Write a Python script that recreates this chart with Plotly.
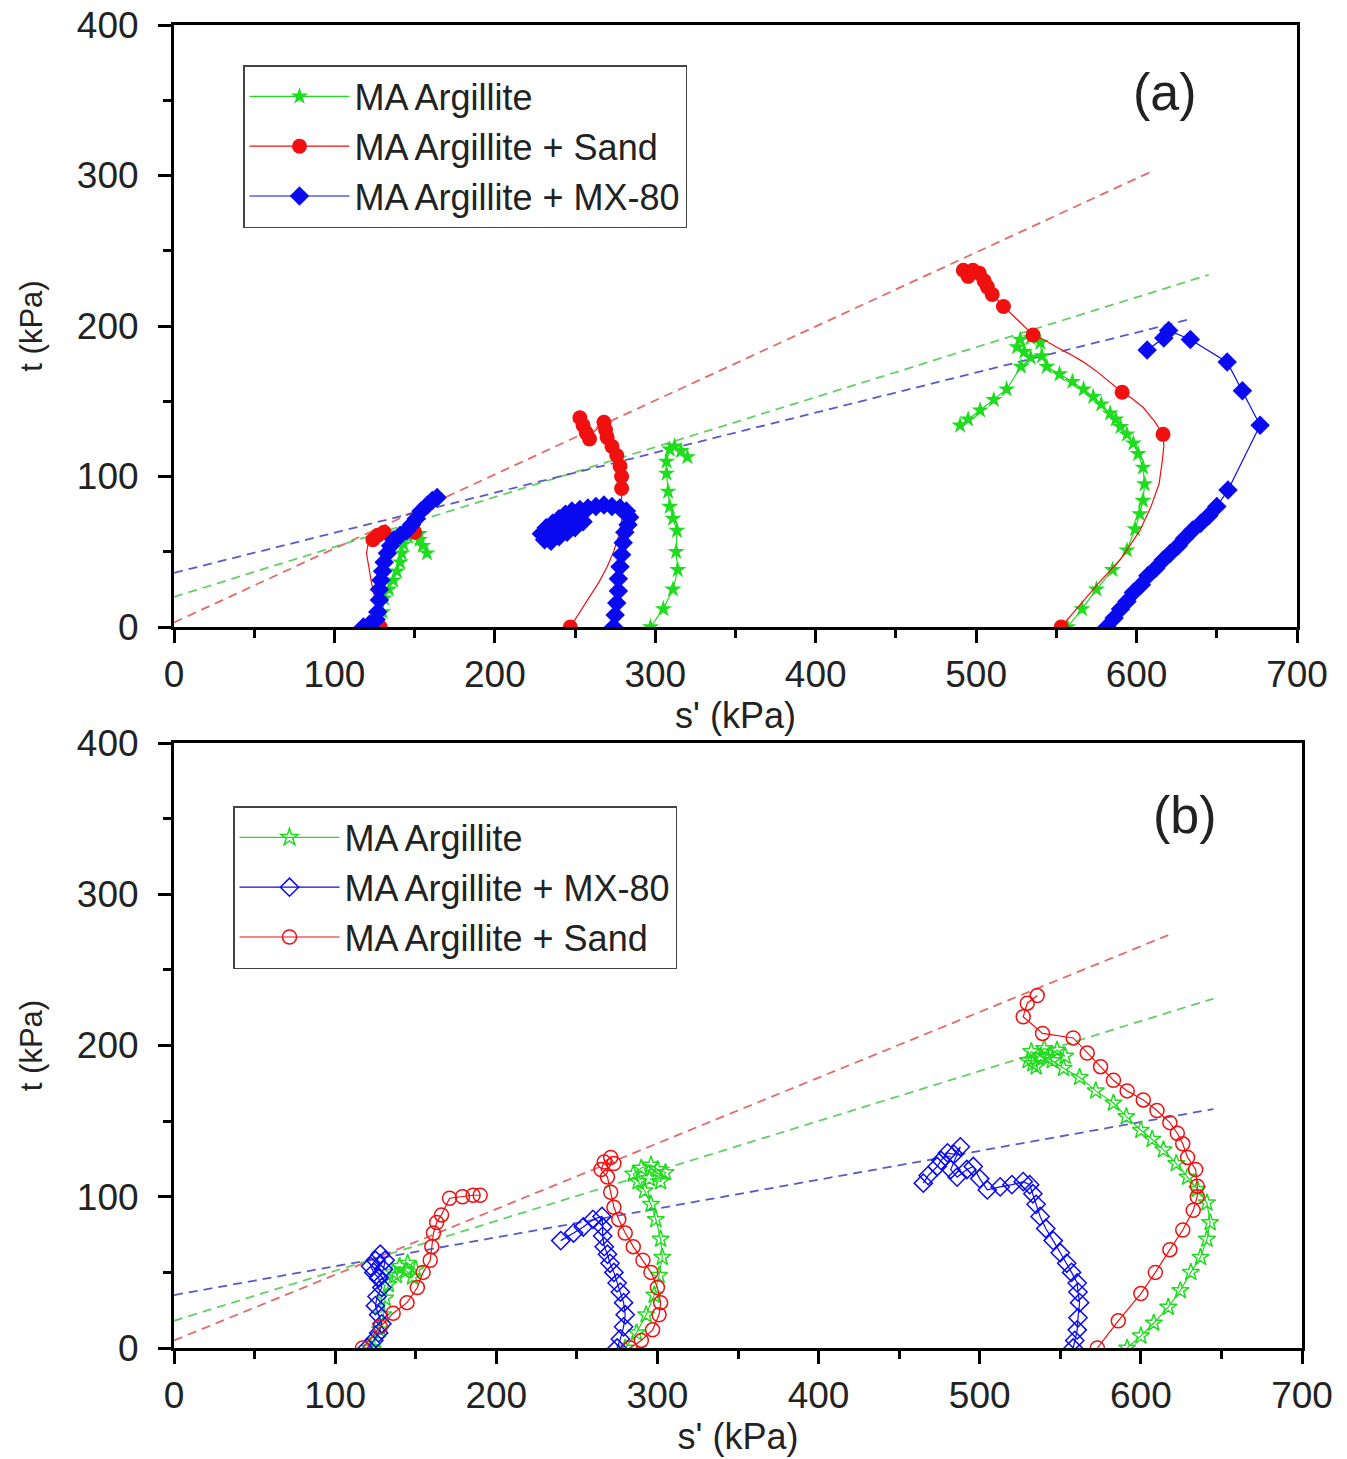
import plotly.graph_objects as go

# ---------------- Panel (a) data ----------------
# MA Argillite (green stars)
a_green_s = [128, 130, 131, 134, 136.7, 139, 141, 142, 143, 146, 149, 153, 153, 155, 157.7, None,
             297, 305, 311, 314, 313, 313.5, 311, 309, 308, 307, 307, 309, 312, 316, 320, None,
             557, 566, 575, 585, 594, 599, 602, 604, 605, 604, 601, 598, 594, 590, 587, 583.5, 578, 573,
             567, 560, 552, 544, 541, 540, 534, 527.5, 525.5, 530, 534, 528, 519, 511, 502.5, 495, 490]
a_green_t = [0, 10, 19, 25, 31, 37, 43, 49, 55, 60, 64, 62, 58, 54, 49, None,
             0, 12, 25, 38, 50, 64, 72, 80, 90, 102, 110, 118, 120, 117, 113, None,
             0, 12, 25, 38, 51, 65, 75, 84, 95, 106, 115, 122, 128, 133, 138, 142, 148, 153,
             158, 163, 168, 173, 180, 189, 192, 191, 186, 183, 179, 173, 158, 151, 144, 138, 134]

# MA Argillite + Sand (red circles): smooth path and marked points
a_red_line_s = [128.5, 126, 123, 121, 120, 121, 124, 127, 130, 135, 140, 145, 149, None,
                247, 253, 259, 265, 270, 274, 277, 279, 279, 279, 279, 277, 274, 272, 271, 270, 268,
                262, 257, 256, 254, 253, None,
                553, 565, 577, 590, 602, 609, 614, 616, 617, 616.5, 611, 604, 597, 591, 583, 575, 567,
                559, 550, 542, 535.5, 528, 522, 517, 512, 507, 504, 502, 496, 492]
a_red_line_t = [0, 15, 30, 42, 49, 55, 58, 61, 64, 63, 62, 63, 64, None,
                0, 10, 20, 30, 40, 50, 60, 70, 80, 92, 102, 111, 118, 124, 130, 134, 136,
                130, 124, 129, 136, 139, None,
                0, 15, 30, 45, 64, 80, 95, 110, 120, 128, 137, 146, 152, 156, 163, 170, 176,
                181, 186, 191, 194, 202, 208, 213, 219, 226, 231, 235, 237, 237]
a_red_pts_s = [128.5, 124, 127, 131, 147, 150,
               247, 279, 279, 278, 276, 273, 270, 269, 268, 259, 257, 255, 253,
               553, 616.5, 591, 535.5, 517, 510, 507, 505, 502, 498, 492, 495]
a_red_pts_t = [0, 58, 61, 63, 64, 63,
               0, 92, 100, 107, 114, 120, 126, 131, 136, 125, 129, 134, 139,
               0, 128, 156, 194, 213, 221, 226, 230, 235, 237, 237, 233]

# MA Argillite + MX-80 (blue diamonds)
a_blue_s = [118, 122, 126, 127, 128, 128, 129, 130, 131, 133, 135, 137, 141, 145, 148, 151, 154, 158, 161, 164, None,
            274, 275, 276, 277, 277, 278, 279, 280, 281, 283, 284, 282, 278, 273, 268, 263, 258, 253, 248,
            244, 240, 236, 232, 229, 231, 235, 240, 245, 250, 255, 250, 243, 237, None,
            581.5, 586, 590, 594, 598, 603, 607, 612, 616.6, 621, 626, 630, 635, 640, 645, 650,
            657, 677, 666, 656.5, 633.5, 620, 617, 606.6]
a_blue_t = [0, 2, 5, 10, 18, 25, 31, 37, 43, 49, 54, 58, 61, 64, 68, 72, 77, 81, 84, 86, None,
            0, 8, 16, 24, 32, 40, 48, 56, 63, 68, 73, 77, 79, 80, 81, 80, 79, 78, 77,
            75, 72, 69, 66, 62, 58, 57, 60, 63, 66, 70, 72, 68, 64, None,
            0, 6, 12, 17, 23, 28, 34, 39, 44.5, 49, 54, 59, 64.5, 69, 74, 80,
            91, 134, 157, 176, 191, 197, 192, 184]

# Failure lines (a)
a_red_fit_s, a_red_fit_t = [0, 610], [3, 303]
a_green_fit_s, a_green_fit_t = [0, 645], [20, 234]
a_blue_fit_s, a_blue_fit_t = [0, 635], [36, 205]

# ---------------- Panel (b) data ----------------
b_green_s = [122, 125, 128, 130, 131, 133, 136, 140, 144, 148, 150, 145, 138, None,
             280, 287, 293, 298, 301, 303, 302, 299, 296, 292, 288, 285, 290, 296, 300, 305, 302, 295, None,
             591.5, 600, 608, 617, 624.5, 631, 637, 641, 643, 641, 635, 629, 622, 614, 607, 600, 591, 583,
             572, 562, 552, 545, 538, 532, 530, 535, 542, 548, 553, 540, 533]
b_green_t = [0, 5, 12, 22, 33, 42, 50, 54, 51, 47, 52, 56, 48, None,
             0, 10, 22, 35, 48, 60, 72, 85, 95, 104, 110, 115, 119, 121, 118, 116, 110, 112, None,
             0, 8, 16.5, 27, 38, 50, 60, 72, 83, 96, 105, 113, 122, 131, 138, 144, 153, 162,
             170, 179, 185, 190, 193, 196, 190, 186, 192, 197, 193, 198, 188]

b_blue_s = [120, 124, 127, 129, 127, 125, 126, 129, 127, 124, 122, 125, 128, 131, 130, 127, None,
            275, 277, 279, 280, 279, 277, 275, 273, 270.6, 269, 267, 266, 266, 265.6, 260, 254, 248, 240, None,
            558, 559, 560.5, 561, 562, 561, 560.5, 557, 554, 550, 545.6, 541, 537.5, 535, 533, 531, 527,
            520, 512.7, 504.7, 500, 496, 492, 486, 482, 488, 484, 480, 476, 473.6, 468, 465]
b_blue_t = [0, 5, 10, 16, 22, 28, 34, 40, 46, 50, 54, 58, 62, 58, 52, 47, None,
            0, 6, 14, 22, 30, 37, 43, 50, 56, 62, 67, 74, 80, 87, 85, 80, 76, 71, None,
            0, 5, 12, 20, 30, 37, 43, 50, 56, 63, 71, 79, 87, 95, 102, 108, 110,
            108, 106.5, 104.5, 112, 120, 118, 113, 118, 133, 128, 129, 124, 120, 114, 109]

b_red_s = [117, 128, 136, 144.6, 151, 154.6, 159, 160, 161, 163, 166, 171, 179, 185.6, 190, None,
           283, 290, 297, 301, 302, 300, 296, 291, 285, 280, 276, 273, 271, 269, 265, 267, 271, 273, None,
           573, 586, 600, 609, 618, 626, 632.5, 635, 635, 634, 629, 626, 622.6, 618, 610, 601.5, 591.5,
           583, 575, 566.7, 558, 539, 527, 529.5, 535.7]
b_red_t = [0, 14, 23, 30, 40, 50, 58, 67, 76, 83, 88, 99, 100, 101, 101, None,
           0, 5, 12, 22, 30, 40, 50, 58, 67, 76, 85, 93, 103, 113, 118, 123, 126, 122, None,
           0, 18, 36, 50, 65, 78, 91, 100, 107, 118, 126, 135, 142, 149, 157, 164, 170,
           177, 186, 195, 205, 208, 219, 228, 233]

b_red_fit_s, b_red_fit_t = [0, 617], [5, 273]
b_green_fit_s, b_green_fit_t = [0, 645], [18, 231]
b_blue_fit_s, b_blue_fit_t = [0, 645], [35, 158]

GREEN = "#1fdc1f"
RED = "#f01010"
BLUE = "#0a0af0"
GREEN_D = "rgba(70,200,70,0.85)"
RED_D = "rgba(225,80,80,0.85)"
BLUE_D = "rgba(60,60,190,0.85)"

FONT = "Liberation Sans, Arial, sans-serif"
TXT = "#222"

fig = go.Figure()

# ---- panel (a) ----
for fs, ft, col in [(a_red_fit_s, a_red_fit_t, RED_D), (a_green_fit_s, a_green_fit_t, GREEN_D),
                    (a_blue_fit_s, a_blue_fit_t, BLUE_D)]:
    fig.add_trace(go.Scatter(x=fs, y=ft, mode="lines", line=dict(color=col, width=1.8, dash="9px,6px"),
                             showlegend=False, xaxis="x", yaxis="y", hoverinfo="skip"))

fig.add_trace(go.Scatter(x=a_green_s, y=a_green_t, mode="lines+markers", name="MA Argillite",
                         line=dict(color=GREEN, width=1.2),
                         marker=dict(symbol="star", size=13, color=GREEN),
                         xaxis="x", yaxis="y", legend="legend", legendrank=1))
fig.add_trace(go.Scatter(x=a_red_line_s, y=a_red_line_t, mode="lines",
                         line=dict(color=RED, width=1.2), showlegend=False,
                         xaxis="x", yaxis="y"))
fig.add_trace(go.Scatter(x=a_red_pts_s, y=a_red_pts_t, mode="markers",
                         marker=dict(symbol="circle", size=15, color=RED), showlegend=False,
                         xaxis="x", yaxis="y"))
# legend-only entry for the red series (line + marker symbol)
fig.add_trace(go.Scatter(x=[None], y=[None], mode="lines+markers", name="MA Argillite + Sand",
                         line=dict(color=RED, width=1.2),
                         marker=dict(symbol="circle", size=15, color=RED),
                         xaxis="x", yaxis="y", legend="legend", legendrank=2))
fig.add_trace(go.Scatter(x=a_blue_s, y=a_blue_t, mode="lines+markers", name="MA Argillite + MX-80",
                         line=dict(color=BLUE, width=1.2),
                         marker=dict(symbol="diamond", size=15, color=BLUE),
                         xaxis="x", yaxis="y", legend="legend", legendrank=3))

# ---- panel (b) ----
for fs, ft, col in [(b_red_fit_s, b_red_fit_t, RED_D), (b_green_fit_s, b_green_fit_t, GREEN_D),
                    (b_blue_fit_s, b_blue_fit_t, BLUE_D)]:
    fig.add_trace(go.Scatter(x=fs, y=ft, mode="lines", line=dict(color=col, width=1.8, dash="9px,6px"),
                             showlegend=False, xaxis="x2", yaxis="y2", hoverinfo="skip"))

fig.add_trace(go.Scatter(x=b_green_s, y=b_green_t, mode="lines+markers", name="MA Argillite",
                         line=dict(color=GREEN, width=1.2),
                         marker=dict(symbol="star-open", size=13, color=GREEN, line=dict(width=1.5)),
                         xaxis="x2", yaxis="y2", legend="legend2", legendrank=1))
fig.add_trace(go.Scatter(x=b_blue_s, y=b_blue_t, mode="lines+markers", name="MA Argillite + MX-80",
                         line=dict(color=BLUE, width=1.2),
                         marker=dict(symbol="diamond-open", size=14, color=BLUE, line=dict(width=1.5)),
                         xaxis="x2", yaxis="y2", legend="legend2", legendrank=2))
fig.add_trace(go.Scatter(x=b_red_s, y=b_red_t, mode="lines+markers", name="MA Argillite + Sand",
                         line=dict(color=RED, width=1.2),
                         marker=dict(symbol="circle-open", size=14, color=RED, line=dict(width=1.5)),
                         xaxis="x2", yaxis="y2", legend="legend2", legendrank=3))

W, H = 1347, 1459


def xdom(l, r):
    return [l / W, r / W]


def ydom(top, bottom):
    return [1 - bottom / H, 1 - top / H]


axis_common = dict(showline=True, linecolor="black", linewidth=3, mirror=True,
                   ticks="outside", ticklen=13, tickwidth=3, tickcolor="black",
                   showgrid=False, zeroline=False, automargin=False,
                   tickfont=dict(family=FONT, size=37, color=TXT),
                   minor=dict(ticks="outside", ticklen=8, tickwidth=2.5, tickcolor="black", dtick=50, showgrid=False))

legend_common = dict(xanchor="left", yanchor="top", bgcolor="white", bordercolor="#444", borderwidth=1.5,
                     font=dict(family=FONT, size=36, color=TXT), traceorder="normal", itemwidth=100,
                     tracegroupgap=0)

fig.update_layout(
    width=W, height=H,
    margin=dict(l=0, r=0, t=0, b=0, autoexpand=False),
    paper_bgcolor="white", plot_bgcolor="white",
    xaxis=dict(domain=xdom(174, 1297), range=[0, 700], dtick=100, anchor="y",
               title=dict(text="s' (kPa)", font=dict(family=FONT, size=36, color=TXT), standoff=0),
               **axis_common),
    yaxis=dict(domain=ydom(25, 627), range=[0, 400], dtick=100, anchor="x", ticklabelstandoff=12,
               title=dict(text="t (kPa)", font=dict(family=FONT, size=31, color=TXT), standoff=26),
               **axis_common),
    xaxis2=dict(domain=xdom(174, 1302), range=[0, 700], dtick=100, anchor="y2",
                title=dict(text="s' (kPa)", font=dict(family=FONT, size=36, color=TXT), standoff=0),
                **axis_common),
    yaxis2=dict(domain=ydom(743, 1348), range=[0, 400], dtick=100, anchor="x2", ticklabelstandoff=12,
                title=dict(text="t (kPa)", font=dict(family=FONT, size=31, color=TXT), standoff=26),
                **axis_common),
    legend=dict(x=243 / W, y=1 - 65 / H, **legend_common),
    legend2=dict(x=233 / W, y=1 - 806 / H, **legend_common),
    annotations=[
        dict(text="(a)", x=1165 / W, y=1 - 92 / H, xref="paper", yref="paper", showarrow=False,
             xanchor="center", yanchor="middle", font=dict(family=FONT, size=52, color=TXT)),
        dict(text="(b)", x=1185 / W, y=1 - 815 / H, xref="paper", yref="paper", showarrow=False,
             xanchor="center", yanchor="middle", font=dict(family=FONT, size=52, color=TXT)),
    ],
)

fig.write_html("out.html")
